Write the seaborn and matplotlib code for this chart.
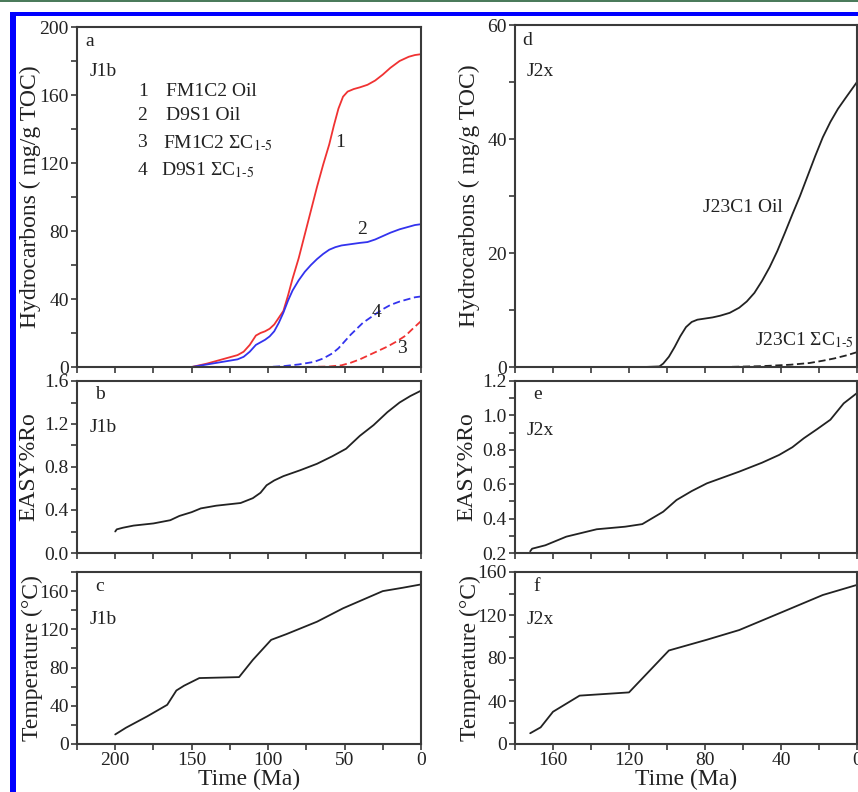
import matplotlib
matplotlib.use("Agg")
import matplotlib.pyplot as plt
from matplotlib.patches import Rectangle
from matplotlib.ticker import MultipleLocator, NullFormatter
import seaborn as sns
import numpy as np

# ===========================
# Data
# ===========================
# panel a - J1b hydrocarbons (mg/g TOC)
fm1c2_oil_t = [150, 140, 130, 120, 116, 112, 108, 105, 102, 99, 96, 93, 90, 87, 84, 80,
               76, 72, 68, 64, 60, 57, 54, 51, 48, 44, 40, 35, 30, 25, 20, 14, 8, 4, 0]
fm1c2_oil_v = [0, 2, 4.5, 7, 9, 13, 18.5, 20, 21, 22.5, 25, 29, 33, 42, 52, 64,
               78, 92, 106, 119, 131, 142, 152, 159, 162, 163.5, 164.5, 166, 168.5, 172, 176, 180, 182.5, 183.5, 184]
d9s1_oil_t = [150, 140, 130, 120, 116, 112, 108, 105, 102, 99, 96, 93, 90, 87, 84, 80,
              76, 72, 68, 64, 60, 56, 52, 48, 44, 40, 35, 30, 25, 20, 14, 8, 4, 0]
d9s1_oil_v = [0, 1.5, 3, 4.5, 6, 9, 13, 14.5, 16, 18, 21, 26, 32, 39, 45, 51,
              56, 60, 63.5, 66.5, 69, 70.5, 71.5, 72, 72.5, 73, 73.5, 75, 77, 79, 81, 82.5, 83.5, 84]
fm1c2_gas_t = [75, 60, 52, 46, 40, 34, 28, 22, 16, 10, 6, 3, 0]
fm1c2_gas_v = [0, 0.3, 1, 2.5, 4.5, 7, 9.5, 12, 15, 18.5, 22, 24.5, 27]
d9s1_gas_t = [100, 90, 80, 70, 64, 58, 54, 50, 46, 42, 38, 34, 30, 25, 20, 14, 8, 4, 0]
d9s1_gas_v = [0, 0.5, 1.5, 3, 5, 8, 11, 15, 19, 22.5, 26, 28.5, 31, 34, 36.5, 38.5, 40, 41, 41.5]

# panel b - J1b EASY%Ro
j1b_ro_t = [200, 199, 195, 188, 175, 164, 158, 150, 144, 134, 118, 110, 105, 101, 96, 90,
            79, 68, 58, 49, 40, 31, 22, 14, 7, 0]
j1b_ro_v = [0.20, 0.22, 0.235, 0.255, 0.275, 0.305, 0.345, 0.38, 0.415, 0.44, 0.465, 0.51, 0.56, 0.63, 0.675, 0.715,
            0.77, 0.83, 0.90, 0.97, 1.09, 1.19, 1.31, 1.40, 1.46, 1.51]

# panel c - J1b temperature (C)
j1b_temp_t = [200, 193, 179, 166, 160, 155, 145, 119, 110, 98, 88, 68, 51, 25, 12, 0]
j1b_temp_v = [10, 17, 29, 41, 56, 61, 69, 70, 88, 109, 115, 128, 142, 160, 163.5, 167]

# panel d - J2x hydrocarbons (mg/g TOC)
j23c1_oil_t = [112, 104, 102, 99, 96, 93, 90, 87, 84, 80, 76, 72, 67, 62, 58, 54, 50, 46,
               42, 38, 34, 30, 26, 22, 18, 14, 10, 6, 3, 0]
j23c1_oil_v = [0, 0.1, 0.6, 1.8, 3.5, 5.4, 7.0, 7.9, 8.3, 8.5, 8.7, 9.0, 9.5, 10.4, 11.5, 13.0, 15.1, 17.5,
               20.3, 23.5, 26.8, 30.0, 33.5, 37.0, 40.3, 43.0, 45.3, 47.2, 48.6, 50]
j23c1_gas_t = [70, 50, 35, 25, 18, 12, 6, 0]
j23c1_gas_v = [0, 0.15, 0.4, 0.7, 1.1, 1.5, 2.0, 2.6]

# panel e - J2x EASY%Ro
j2x_ro_t = [172, 171, 164, 153, 137, 122, 113, 102, 95, 87, 79, 74, 62, 50, 41, 34, 28, 21, 14, 7, 0]
j2x_ro_v = [0.21, 0.225, 0.245, 0.295, 0.338, 0.353, 0.368, 0.44, 0.508, 0.56, 0.605, 0.625, 0.673,
            0.725, 0.77, 0.815, 0.867, 0.92, 0.975, 1.07, 1.13]

# panel f - J2x temperature (C)
j2x_temp_t = [172, 166.5, 160, 146, 120, 99, 79, 62, 39, 18, 0]
j2x_temp_v = [10, 15.5, 30, 45, 48, 87, 97, 106, 123, 138.6, 148]

# ===========================
# Style
# ===========================
sns.set_style("ticks")
plt.rcParams["font.family"] = ["Liberation Serif", "DejaVu Serif"]
plt.rcParams["mathtext.fontset"] = "stix"

RED = "#f03232"
BLUE = "#3333ee"
DARK = "#222222"
SPINE = "#3a3a3a"

W, H = 858, 792
fig = plt.figure(figsize=(W / 100, H / 100), dpi=100)


def px_axes(x0, y0, x1, y1):
    return fig.add_axes([x0 / W, 1 - y1 / H, (x1 - x0) / W, (y1 - y0) / H])


def style(ax, xlim, xmaj, xmin, ylim, ymaj, ymin, xlabels):
    ax.set_xlim(*xlim)
    ax.set_ylim(*ylim)
    ax.xaxis.set_major_locator(MultipleLocator(xmaj))
    ax.xaxis.set_minor_locator(MultipleLocator(xmin))
    ax.yaxis.set_major_locator(MultipleLocator(ymaj))
    ax.yaxis.set_minor_locator(MultipleLocator(ymin))
    ax.tick_params(which="both", direction="out", length=4, width=1.2, color=SPINE,
                   labelsize=14, pad=2, labelcolor=DARK)
    if not xlabels:
        ax.xaxis.set_major_formatter(NullFormatter())
    for s in ax.spines.values():
        s.set_linewidth(1.5)
        s.set_color(SPINE)
    ax.set_xlabel("")
    ax.set_ylabel("")


def line(ax, t, v, color=DARK, dashed=False):
    kw = dict(dashes=(4, 2)) if dashed else {}
    sns.lineplot(x=t, y=v, ax=ax, color=color, linewidth=1.3, **kw)


# ===========================
# Left column (J1b)
# ===========================
ax_a = px_axes(77, 27, 421, 367)
line(ax_a, fm1c2_oil_t, fm1c2_oil_v, RED)
line(ax_a, d9s1_oil_t, d9s1_oil_v, BLUE)
line(ax_a, fm1c2_gas_t, fm1c2_gas_v, RED, dashed=True)
line(ax_a, d9s1_gas_t, d9s1_gas_v, BLUE, dashed=True)
style(ax_a, (225, 0), 50, 25, (0, 200), 40, 20, False)
ax_a.set_ylabel("Hydrocarbons ( mg/g TOC)", fontsize=17, color=DARK)
ax_a.yaxis.set_label_coords(-0.105, 0.5)
ax_a.text(0.023, 0.956, "a", transform=ax_a.transAxes, fontsize=14, va="center", color=DARK)
ax_a.text(0.038, 0.868, "J1b", transform=ax_a.transAxes, fontsize=14, va="center", color=DARK)
legend_rows = [
    ("1", 0.177, "FM1C2 Oil", 0.259, 0.809),
    ("2", 0.174, "D9S1 Oil", 0.259, 0.741),
    ("3", 0.174, r"FM1C2 ΣC$_{1\text{-}5}$", 0.250, 0.659),
    ("4", 0.177, r"D9S1 ΣC$_{1\text{-}5}$", 0.244, 0.579),
]
for num, nx, lab, lx, ly in legend_rows:
    ax_a.text(nx, ly, num, transform=ax_a.transAxes, fontsize=14, va="center", color=DARK)
    ax_a.text(lx, ly, lab, transform=ax_a.transAxes, fontsize=14, va="center", color=DARK)
for num, t, v in [("1", 53, 132), ("2", 38.6, 81), ("4", 28.8, 32), ("3", 12.4, 11)]:
    ax_a.text(t, v, num, fontsize=14, ha="center", va="center", color=DARK)

ax_b = px_axes(77, 381, 421, 553)
line(ax_b, j1b_ro_t, j1b_ro_v)
style(ax_b, (225, 0), 50, 25, (0, 1.6), 0.4, 0.2, False)
ax_b.yaxis.set_major_formatter(matplotlib.ticker.FormatStrFormatter("%.1f"))
ax_b.set_ylabel("EASY%Ro", fontsize=17, color=DARK)
ax_b.yaxis.set_label_coords(-0.11, 0.5)
ax_b.text(0.052, 0.919, "b", transform=ax_b.transAxes, fontsize=14, va="center", color=DARK)
ax_b.text(0.038, 0.727, "J1b", transform=ax_b.transAxes, fontsize=14, va="center", color=DARK)

ax_c = px_axes(77, 572, 421, 744)
line(ax_c, j1b_temp_t, j1b_temp_v)
style(ax_c, (225, 0), 50, 25, (0, 180), 40, 20, True)
ax_c.set_ylabel("Temperature (°C)", fontsize=17, color=DARK)
ax_c.yaxis.set_label_coords(-0.10, 0.5)
ax_c.set_xlabel("Time (Ma)", fontsize=17, color=DARK, labelpad=0)
ax_c.text(0.052, 0.913, "c", transform=ax_c.transAxes, fontsize=14, va="center", color=DARK)
ax_c.text(0.038, 0.721, "J1b", transform=ax_c.transAxes, fontsize=14, va="center", color=DARK)

# ===========================
# Right column (J2x)
# ===========================
ax_d = px_axes(515, 25, 857, 367)
line(ax_d, j23c1_oil_t, j23c1_oil_v)
line(ax_d, j23c1_gas_t, j23c1_gas_v, dashed=True)
style(ax_d, (180, 0), 40, 20, (0, 60), 20, 10, False)
ax_d.set_ylabel("Hydrocarbons ( mg/g TOC)", fontsize=17, color=DARK)
ax_d.yaxis.set_label_coords(-0.102, 0.5)
ax_d.text(0.0225, 0.956, "d", transform=ax_d.transAxes, fontsize=14, va="center", color=DARK)
ax_d.text(0.035, 0.863, "J2x", transform=ax_d.transAxes, fontsize=14, va="center", color=DARK)
ax_d.text(60.2, 27.9, "J23C1 Oil", fontsize=14, ha="center", va="center", color=DARK)
ax_d.text(53.9, 4.7, r"J23C1 ΣC$_{1\text{-}5}$", fontsize=14, ha="left", va="center",
          color=DARK, clip_on=False)

ax_e = px_axes(515, 381, 857, 553)
line(ax_e, j2x_ro_t, j2x_ro_v)
style(ax_e, (180, 0), 40, 20, (0.2, 1.2), 0.2, 0.1, False)
ax_e.yaxis.set_major_formatter(matplotlib.ticker.FormatStrFormatter("%.1f"))
ax_e.set_ylabel("EASY%Ro", fontsize=17, color=DARK)
ax_e.yaxis.set_label_coords(-0.11, 0.5)
ax_e.text(0.053, 0.919, "e", transform=ax_e.transAxes, fontsize=14, va="center", color=DARK)
ax_e.text(0.035, 0.715, "J2x", transform=ax_e.transAxes, fontsize=14, va="center", color=DARK)

ax_f = px_axes(515, 572, 857, 744)
line(ax_f, j2x_temp_t, j2x_temp_v)
style(ax_f, (180, 0), 40, 20, (0, 160), 40, 20, True)
ax_f.set_ylabel("Temperature (°C)", fontsize=17, color=DARK)
ax_f.yaxis.set_label_coords(-0.10, 0.5)
ax_f.set_xlabel("Time (Ma)", fontsize=17, color=DARK, labelpad=0)
ax_f.text(0.053, 0.913, "f", transform=ax_f.transAxes, fontsize=14, va="center", color=DARK)
ax_f.text(0.035, 0.721, "J2x", transform=ax_f.transAxes, fontsize=14, va="center", color=DARK)

# ===========================
# Page frame (green rule + blue border)
# ===========================
fig.add_artist(Rectangle((0, 1 - 2 / H), 1, 2 / H, transform=fig.transFigure,
                         color="#4b7b5b", lw=0))
fig.add_artist(Rectangle((10 / W, 1 - 16 / H), 1, 4 / H, transform=fig.transFigure,
                         color="#0000ff", lw=0))
fig.add_artist(Rectangle((10 / W, 0), 6 / W, 1 - 12 / H, transform=fig.transFigure,
                         color="#0000ff", lw=0))

fig.savefig("out.png", dpi=100, facecolor="white")
